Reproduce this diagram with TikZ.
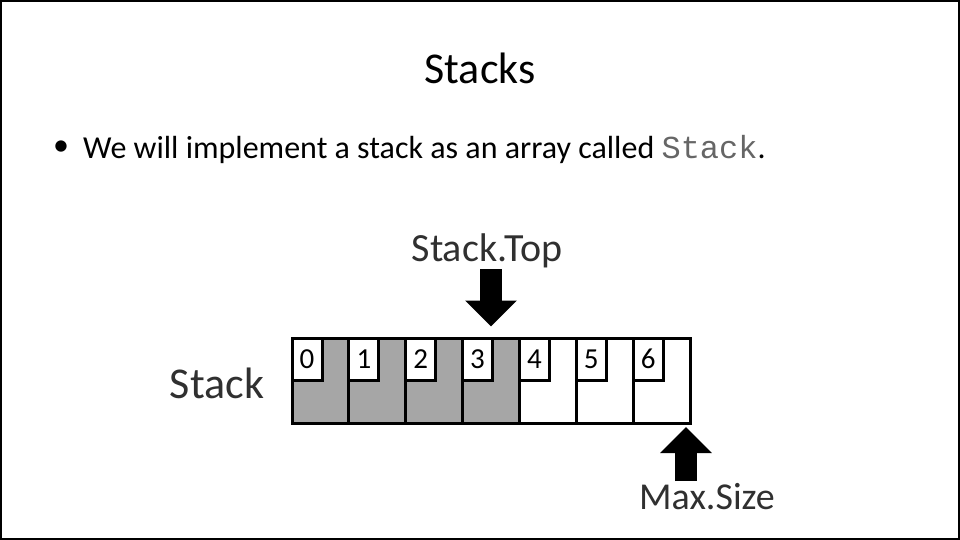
\documentclass[tikz,border=0pt]{standalone}
\usepackage{fontspec}
\setmainfont{Carlito}[Numbers=Lining]
\newfontfamily\codefont{Liberation Mono}
\usetikzlibrary{arrows.meta}
\definecolor{usedgray}{HTML}{A6A6A6}
\definecolor{lblgray}{HTML}{303030}
\tikzset{
  cellbox/.style={draw, line width=3pt, rectangle, minimum width=56.86pt, minimum height=85pt, inner sep=0pt},
  idxbox/.style={draw, line width=3pt, rectangle, fill=white, minimum width=30pt, minimum height=42pt, inner sep=0pt, text height=18.5pt, text depth=0pt, anchor=north west, font=\fontsize{29}{29}\selectfont},
  biglabel/.style={text=lblgray},
  blockarrow/.style={line width=22pt, -{Triangle[length=26pt, width=50pt]}}
}
\begin{document}
\begin{tikzpicture}[x=1pt, y=-1pt]
\useasboundingbox (0,0) rectangle (960,540);
\draw[line width=2pt] (1,1) rectangle (959,539);

\node (title) at (480,68) {\fontsize{44}{44}\selectfont Stacks};
\node (bullet) at (61,148) {\fontsize{32}{32}\selectfont\textbullet};
\node[anchor=base west, inner sep=0pt] (line1) at (83,159) {\fontsize{32}{32}\selectfont We will implement a stack as an array called {\codefont\color{black!60}Stack}.};

% the array
\node[cellbox, fill=usedgray] (cell0) at (320.43,380.5) {};
\node[cellbox, fill=usedgray] (cell1) at (377.29,380.5) {};
\node[cellbox, fill=usedgray] (cell2) at (434.14,380.5) {};
\node[cellbox, fill=usedgray] (cell3) at (491.00,380.5) {};
\node[cellbox] (cell4) at (547.86,380.5) {};
\node[cellbox] (cell5) at (604.71,380.5) {};
\node[cellbox] (cell6) at (661.57,380.5) {};

\node[idxbox] (idx0) at (cell0.north west) {0};
\node[idxbox] (idx1) at (cell1.north west) {1};
\node[idxbox] (idx2) at (cell2.north west) {2};
\node[idxbox] (idx3) at (cell3.north west) {3};
\node[idxbox] (idx4) at (cell4.north west) {4};
\node[idxbox] (idx5) at (cell5.north west) {5};
\node[idxbox] (idx6) at (cell6.north west) {6};

\node[biglabel, font=\fontsize{44}{44}\selectfont] (stacklbl) at (217,383) {Stack};
\node[biglabel, font=\fontsize{40}{40}\selectfont] (toplbl) at (487,251) {Stack.Top};
\node[biglabel, font=\fontsize{38}{38}\selectfont] (maxlbl) at (707,497) {Max.Size};

\coordinate (topstart) at (491,269);
\coordinate (maxstart) at (686,481);
\coordinate (maxend) at (686,427);
\draw[blockarrow] (topstart) -- ([yshift=10pt]cell3.north);
\draw[blockarrow] (maxstart) -- (maxend);
\end{tikzpicture}
\end{document}
